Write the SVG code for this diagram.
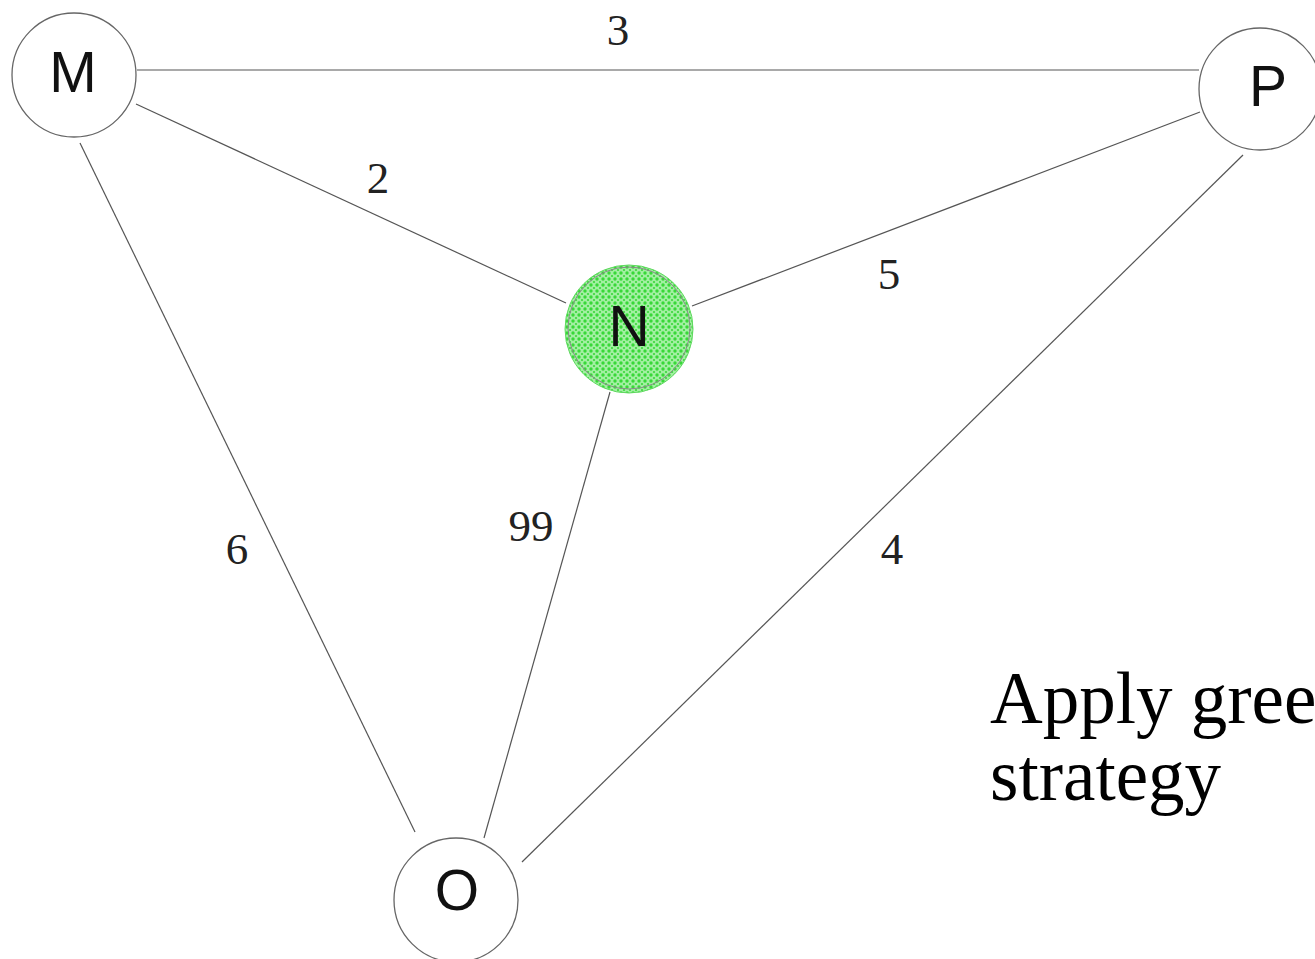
<svg xmlns="http://www.w3.org/2000/svg" width="1315" height="959" viewBox="0 0 1315 959">
<defs>
<pattern id="mesh" width="6" height="6" patternUnits="userSpaceOnUse">
<rect width="6" height="6" fill="#a2f0a2"/>
<circle cx="3" cy="3" r="1.7" fill="#38d838"/>
<circle cx="0" cy="0" r="1.1" fill="#38d838"/>
<circle cx="6" cy="6" r="1.1" fill="#38d838"/>
<circle cx="6" cy="0" r="1.1" fill="#38d838"/>
<circle cx="0" cy="6" r="1.1" fill="#38d838"/>
</pattern>
</defs>
<style>
.node{fill:#fff;stroke:#666;stroke-width:1.3}
.lbl{font-family:"Liberation Sans",Arial,sans-serif;font-size:57px;fill:#111;text-anchor:middle;dominant-baseline:central}
.edge{stroke:#555;stroke-width:1.2;fill:none}
.w{font-family:"Liberation Serif","Times New Roman",serif;font-size:45px;fill:#222;text-anchor:middle}
.note{font-family:"Liberation Serif","Times New Roman",serif;font-size:73px;fill:#000}
</style>
<rect width="1315" height="959" fill="#fff"/>
<g id="connectors">
<line class="edge" x1="137" y1="70" x2="1199" y2="70"/>
<line class="edge" x1="136" y1="104" x2="566" y2="303"/>
<line class="edge" x1="80" y1="143" x2="415" y2="832"/>
<line class="edge" x1="692" y1="306" x2="1200" y2="112"/>
<line class="edge" x1="610" y1="392" x2="484" y2="838"/>
<line class="edge" x1="1243" y1="155" x2="522" y2="862"/>
<text class="w" x="618" y="45">3</text>
<text class="w" x="378" y="193">2</text>
<text class="w" x="889" y="289">5</text>
<text class="w" x="237" y="564">6</text>
<text class="w" x="531" y="541">99</text>
<text class="w" x="892" y="564">4</text>
</g>
<g id="node-M">
<circle class="node" cx="74" cy="75" r="62"/>
<text class="lbl" x="73" y="72">M</text>
</g>
<g id="node-P">
<circle class="node" cx="1260" cy="89" r="61"/>
<text class="lbl" x="1268" y="86">P</text>
</g>
<g id="node-N">
<circle cx="629" cy="329" r="64" fill="url(#mesh)" stroke="#5fd85f" stroke-width="1"/>
<circle cx="629" cy="328" r="61" fill="none" stroke="#888" stroke-width="1"/>
<text class="lbl" x="629" y="326">N</text>
</g>
<g id="node-O">
<circle class="node" cx="456" cy="900" r="62"/>
<text class="lbl" x="457" y="890">O</text>
</g>
<g id="note">
<text class="note" x="990" y="723">Apply greedy</text>
<text class="note" x="990" y="800">strategy</text>
</g>
</svg>
